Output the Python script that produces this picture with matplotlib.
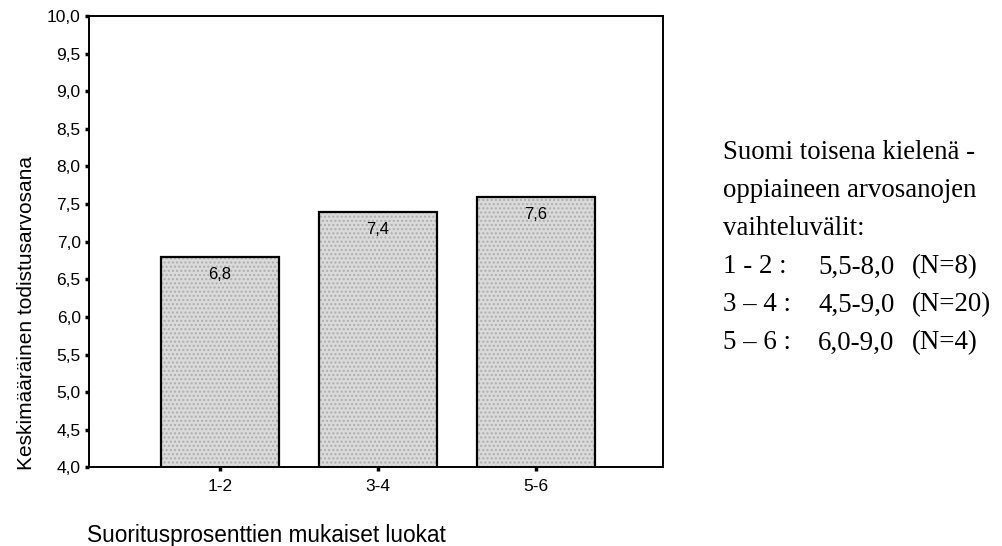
import matplotlib
matplotlib.use("Agg")
import matplotlib.pyplot as plt
from matplotlib.ticker import FuncFormatter

# Mean certificate grade by performance class
classes = ["1-2", "3-4", "5-6"]
mean_grade = [6.8, 7.4, 7.6]
value_labels = ["6,8", "7,4", "7,6"]
yticks = [4.0, 4.5, 5.0, 5.5, 6.0, 6.5, 7.0, 7.5, 8.0, 8.5, 9.0, 9.5, 10.0]

# Grade ranges per class (shown as side note)
range_class = ["1 - 2 :", "3 \u2013 4 :", "5 \u2013 6 :"]
range_vals = ["5,5-8,0", "4,5-9,0", "6,0-9,0"]
range_n = ["(N=8)", "(N=20)", "(N=4)"]

sans = ["Liberation Sans", "DejaVu Sans"]
serif = ["Liberation Serif", "DejaVu Serif"]

fig = plt.figure(figsize=(10.02, 5.46), dpi=100)
ax = fig.add_axes([0.0888, 0.1438, 0.5729, 0.827])

x = list(range(len(classes)))
bars = ax.bar(x, mean_grade, width=0.747, bottom=0, color="#dadada",
              edgecolor="black", linewidth=1.6, hatch="....")
for b in bars:
    b._hatch_color = (0.68, 0.68, 0.68, 1.0)

for xi, v, lab in zip(x, mean_grade, value_labels):
    ax.text(xi, v - 0.235, lab, ha="center", va="center", fontsize=12,
            family=sans, color="black")

ax.set_ylim(4.0, 10.0)
ax.set_xlim(-0.829, 2.804)
ax.set_yticks(yticks)
ax.yaxis.set_major_formatter(FuncFormatter(lambda v, p: f"{v:.1f}".replace(".", ",")))
ax.set_xticks(x)
ax.set_xticklabels(classes)
for lab in ax.get_xticklabels() + ax.get_yticklabels():
    lab.set_family(sans)
    lab.set_fontsize(12.5)
ax.tick_params(axis="y", direction="out", length=3, width=2.5, pad=3)
ax.tick_params(axis="x", direction="out", length=3, width=2.5, pad=5)

for s in ax.spines.values():
    s.set_linewidth(1.4)
    s.set_color("black")

ax.set_ylabel("Keskimääräinen todistusarvosana", family=sans, fontsize=15,
              ha="center")
ax.yaxis.set_label_coords(-0.092, 0.343)
fig.text(0.0868, 0.02, "Suoritusprosenttien mukaiset luokat", family=sans,
         fontsize=16.3, ha="left", va="center")

# Side note on grade ranges
tx = 0.7216
fs = 19.4
lines_y = [0.7198, 0.6502, 0.5806]
for y, t in zip(lines_y, ["Suomi toisena kielen\u00e4 -",
                          "oppiaineen arvosanojen",
                          "vaihteluv\u00e4lit:"]):
    fig.text(tx, y, t, family=serif, fontsize=fs, ha="left", va="center")
for i, (c, r, n) in enumerate(zip(range_class, range_vals, range_n)):
    y = 0.5110 - i * 0.0696
    fig.text(tx, y, c, family=serif, fontsize=fs, ha="left", va="center")
    fig.text(0.8164, y, r, family=serif, fontsize=fs, ha="left", va="center")
    fig.text(0.9102, y, n, family=serif, fontsize=fs, ha="left", va="center")

fig.savefig("out.png", dpi=100)
